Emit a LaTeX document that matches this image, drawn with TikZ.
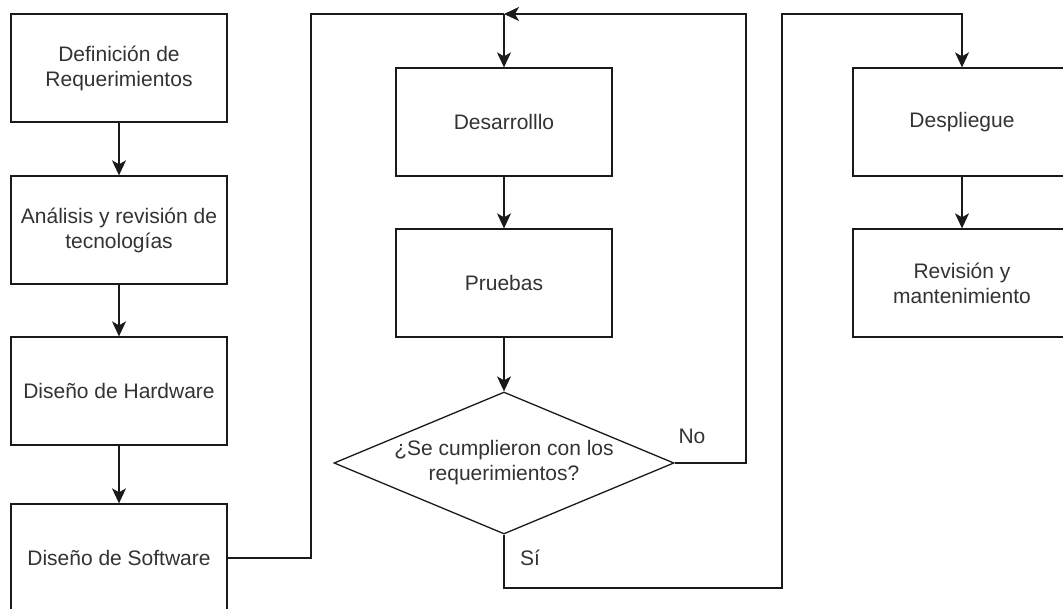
\documentclass[tikz,border=0pt]{standalone}
\usepackage{fontspec}
\setmainfont{Liberation Sans}
\usetikzlibrary{shapes.geometric,arrows.meta}
\definecolor{txt}{HTML}{333333}
\definecolor{ln}{HTML}{1A1A1A}
\tikzset{
  box/.style={draw=ln, line width=1.3pt, rectangle, minimum width=216pt,
    minimum height=108pt, inner sep=0pt, align=center, text=txt,
    font=\fontsize{21pt}{25pt}\selectfont},
  decision/.style={draw=ln, line width=1.3pt, diamond, aspect=2.4,
    minimum width=340pt, minimum height=142pt, inner sep=0pt,
    align=center, text=txt, font=\fontsize{21pt}{25pt}\selectfont},
  lbl/.style={text=txt, inner sep=0pt, font=\fontsize{21pt}{25pt}\selectfont},
  conn/.style={draw=ln, line width=1.3pt},
  arr/.style={conn, -{Stealth[length=15pt,width=14pt,inset=4pt]}}
}
\begin{document}
\begin{tikzpicture}[x=1pt,y=-1pt]
\useasboundingbox (0,0) rectangle (1063,608);
\fill[white] (0,0) rectangle (1063,608);
\clip (0,0) rectangle (1063,608);

% left column
\node[box] (req) at (119,68)  {Definición de\\Requerimientos};
\node[box] (tec) at (119,230) {Análisis y revisión de\\tecnologías};
\node[box] (hw)  at (119,391) {Diseño de Hardware};
\node[box] (sw)  at (119,558) {Diseño de Software};

% middle column
\node[box] (dev) at (504,122) {Desarrolllo};
\node[box] (pru) at (504,283) {Pruebas};
\node[decision] (dec) at (504,463) {¿Se cumplieron con los\\requerimientos?};

% right column
\node[box, minimum width=218pt] (dep) at (962,122) {Despliegue};
\node[box, minimum width=218pt] (rev) at (962,283) {Revisión y\\mantenimiento};

% branch labels
\node[lbl] (no) at (692,436) {No};
\node[lbl] (si) at (530,558) {Sí};

% routing points
\coordinate (top1) at (311,14);
\coordinate (join) at (504,14);
\coordinate (top2) at (746,14);
\coordinate (bot)  at (782,588);
\coordinate (top3) at (782,14);

% connectors
\draw[arr] (req) -- (tec);
\draw[arr] (tec) -- (hw);
\draw[arr] (hw) -- (sw);
\draw[conn] (sw.east) -| (top1) -- (join);
\draw[arr] (join) -- (dev.north);
\draw[arr] (dev) -- (pru);
\draw[arr] (pru.south) -- (dec.north);
\draw[arr] (dec.east) -| (top2) -- (join);
\draw[arr] (dec.south) |- (bot) -- (top3) -| (dep.north);
\draw[arr] (dep) -- (rev);
\end{tikzpicture}
\end{document}
